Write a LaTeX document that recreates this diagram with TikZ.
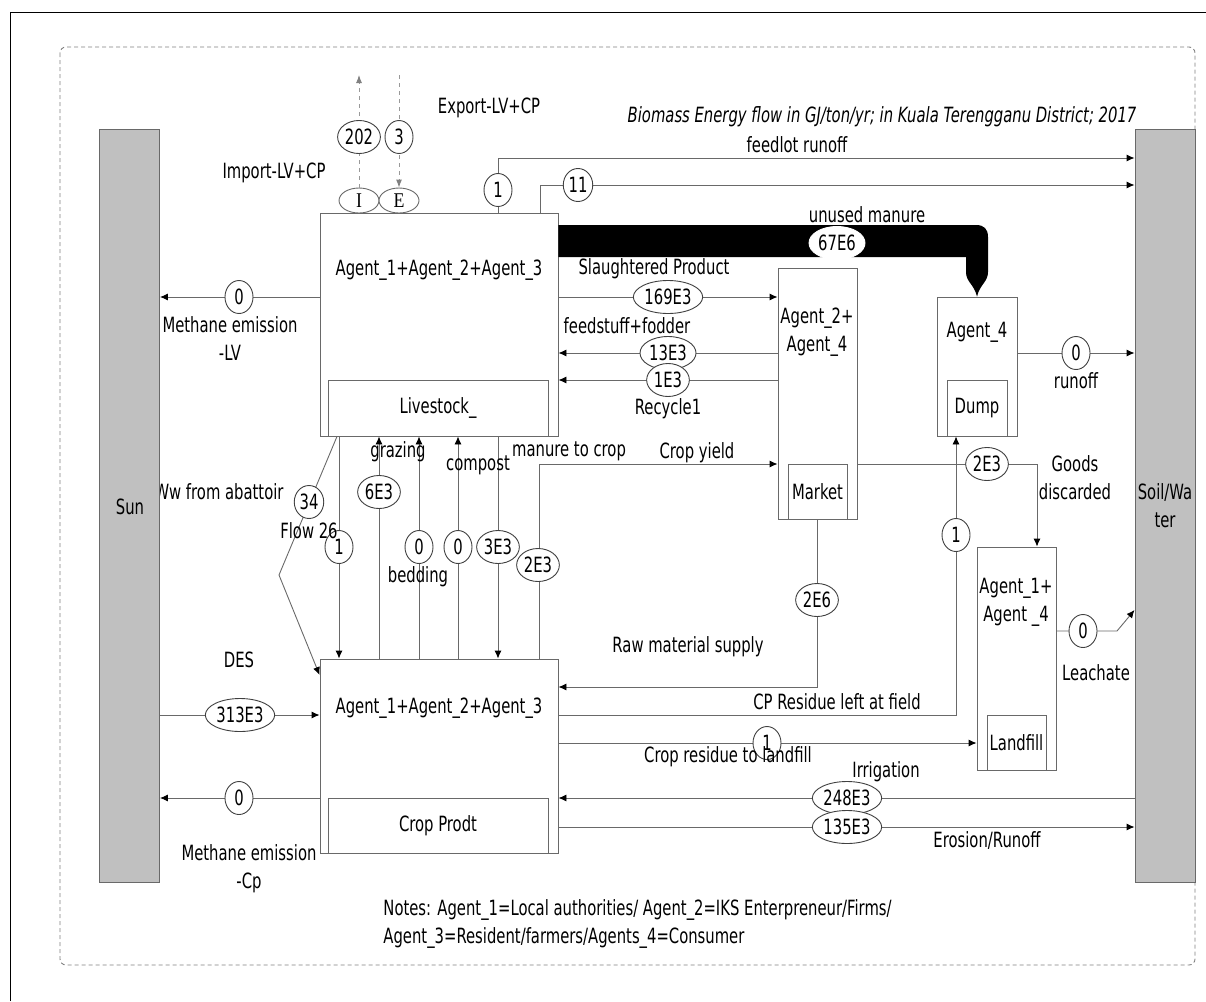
\documentclass[tikz,border=0pt]{standalone}
\usepackage{fontspec}
\setmainfont{DejaVu Sans}[FakeStretch=0.705]
\newfontfamily\ieserif{Liberation Serif}[FakeStretch=0.85]
\usetikzlibrary{arrows.meta,shapes.geometric,positioning}
\definecolor{linegray}{RGB}{105,105,105}
\definecolor{bargray}{RGB}{192,192,192}
\begin{document}
\begin{tikzpicture}[x=1pt,y=-1pt,line width=0.9pt,font=\fontsize{21}{28}\selectfont,
    box/.style={draw=linegray,fill=white,rectangle,inner sep=0pt},
    bar/.style={draw=linegray,fill=bargray,rectangle,inner sep=0pt,minimum width=60pt,minimum height=753pt},
    val/.style={draw=black!75,fill=white,ellipse,inner xsep=1pt,inner ysep=2pt,minimum width=28pt,minimum height=33pt},
    ie/.style={draw=linegray,fill=white,ellipse,inner sep=0pt,minimum width=40pt,minimum height=25pt},
    flow/.style={draw=linegray,-{Latex[color=black,length=8pt,width=7pt]}},
    ieflow/.style={draw=gray!80,dashed,dash pattern=on 4pt off 4pt,-{Latex[color=gray,length=8pt,width=6pt]}},
    txt/.style={inner sep=0pt,align=center}]
\useasboundingbox (0,0) rectangle (1206,1001);
\draw[line width=1pt] (10,1001) -- (10,12) -- (1206,12);
\draw[gray,dashed,dash pattern=on 4pt off 3pt,rounded corners=6pt] (60,47) rectangle (1195,965);

\node (ww) [txt,anchor=east] at (284,492) {Ww from abattoir};
\node (sun) [bar] at (129.5,505.5) {};
\node (soil) [bar] at (1165,505.5) {};
\node (suntxt) [txt] at (130,507) {Sun};
\node (soiltxt) [txt] at (1165,506) {Soil/Wa\\ter};

\node (lv) [box,minimum width=238pt,minimum height=223pt] at (439,324.5) {};
\node (lvin) [box,minimum width=220pt,minimum height=56pt] at (438,408) {Livestock\_};
\node (crop) [box,minimum width=238pt,minimum height=194pt] at (439,756) {};
\node (cropin) [box,minimum width=220pt,minimum height=55pt] at (438,825.5) {Crop Prodt};
\node (mkt) [box,minimum width=79pt,minimum height=251pt] at (817.5,393.5) {};
\node (mktin) [box,minimum width=59pt,minimum height=55pt] at (817.5,491.5) {Market};
\node (dump) [box,minimum width=80pt,minimum height=139pt] at (977,366.5) {};
\node (dumpin) [box,minimum width=60pt,minimum height=56pt] at (977,408) {Dump};
\node (lfill) [box,minimum width=79pt,minimum height=223pt] at (1016.5,658.5) {};
\node (lfillin) [box,minimum width=59pt,minimum height=55pt] at (1016.5,742.5) {Landfill};
\node (lvtxt) [txt] at (439,270) {Agent\_1+Agent\_2+Agent\_3};
\node (croptxt) [txt] at (439,708) {Agent\_1+Agent\_2+Agent\_3};
\node (mkttxt) [txt] at (817,332) {Agent\_2+\\Agent\_4};
\node (dumptxt) [txt] at (977,332) {Agent\_4};
\node (lfilltxt) [txt] at (1016,602) {Agent\_1+\\Agent \_4};

\node (imp) [ie] at (359,200.5) {\ieserif I};
\node (exp) [ie] at (399,200.5) {\ieserif E};
\coordinate (impend) at (359,75);
\coordinate (expstart) at (399,75);
\draw[ieflow] (imp) -- (impend);
\draw[ieflow] (expstart) -- (exp);

\fill (lv.east |- 0,225) -- (976,225) .. controls (984,225) and (988,229) .. (988,237) -- (988,272)
    .. controls (988,282) and (980,284) .. (dump.north) .. controls (974,284) and (966,282) .. (966,272)
    -- (966,257) -- (lv.east |- 0,257) -- cycle;

\draw[flow] (lv.north -| 498,0) |- (soil.west |- 0,158);
\draw[flow] (lv.north -| 540,0) |- (soil.west |- 0,185);
\draw[flow] (lv.west |- 0,297) -- (sun.east |- 0,297);
\draw[flow] (lv.east |- 0,297) -- (mkt.west |- 0,297);
\draw[flow] (mkt.west |- 0,353) -- (lv.east |- 0,353);
\draw[flow] (mkt.west |- 0,380) -- (lv.east |- 0,380);
\draw[flow] (crop.north -| 539,0) |- (mkt.west |- 0,464);
\draw[flow] (lv.south -| 339,0) -- (crop.north -| 339,0);
\foreach \x in {379,419,458}
    \draw[flow] (crop.north -| \x,0) -- (lv.south -| \x,0);
\draw[flow] (lv.south -| 498,0) -- (crop.north -| 498,0);
\draw[flow] (lv.south -| 337,0) -- (279,575) -- (crop.west |- 0,675);
\draw[flow] (sun.east |- 0,715) -- (crop.west |- 0,715);
\draw[flow] (crop.west |- 0,798) -- (sun.east |- 0,798);
\draw[flow] (mkt.south) |- (crop.east |- 0,687);
\draw[flow] (crop.east |- 0,715) -| (dump.south -| 956,0);
\draw[flow] (crop.east |- 0,743) -- (lfill.west |- 0,743);
\draw[flow] (soil.west |- 0,798) -- (crop.east |- 0,798);
\draw[flow] (crop.east |- 0,827) -- (soil.west |- 0,827);
\draw[flow] (mkt.east |- 0,464) -| (lfill.north -| 1037,0);
\draw[flow] (dump.east |- 0,353) -- (soil.west |- 0,353);
\draw[flow] (lfill.east |- 0,631) -- (1117,631) -- (soil.west |- 0,610);

\node (v202) [val] at (359,137) {202};
\node (v3) [val] at (399,137) {3};
\node (vfeed) [val] at (498,190) {1};
\node (v11) [val] at (578,185) {11};
\node (vmeth) [val] at (239,297) {0};
\node (vunused) [val,draw=white] at (837,243) {67E6};
\node (vslau) [val] at (668,297) {169E3};
\node (vfodd) [val] at (668,353) {13E3};
\node (vrec) [val] at (668,380) {1E3};
\node (vabat) [val] at (309,502) {34};
\node (vgraz) [val] at (379,492) {6E3};
\node (vdown) [val] at (339,547) {1};
\node (vbed) [val] at (419,547) {0};
\node (vcomp) [val] at (458,547) {0};
\node (vman) [val] at (498,547) {3E3};
\node (vyield) [val] at (538,565) {2E3};
\node (vdes) [val] at (240,715) {313E3};
\node (vmethcp) [val] at (239,798) {0};
\node (vraw) [val] at (817,600) {2E6};
\node (vres) [val] at (956,535) {1};
\node (vresl) [val] at (767,743) {1};
\node (virr) [val] at (847,798) {248E3};
\node (vero) [val] at (847,827) {135E3};
\node (vgood) [val] at (987,464) {2E3};
\node (vrun) [val] at (1076,353) {0};
\node (vleach) [val] at (1083,631) {0};

\node (methlv) [txt] at (230,339) {Methane emission\\-LV};
\node (import) [txt] at (274,173) {Import-LV+CP};
\node (export) [txt] at (489,108) {Export-LV+CP};
\node (title) [txt,font=\fontsize{21}{28}\selectfont\itshape] at (882,117) {Biomass Energy flow in GJ/ton/yr; in Kuala Terengganu District; 2017};
\node (feedlot) [txt] at (797,145) {feedlot runoff};
\node (unused) [txt] at (867,215) {unused manure};
\node (slau) [txt] at (654,269) {Slaughtered Product};
\node (fodd) [txt] at (627,326) {feedstuff+fodder};
\node (rec) [txt] at (668,409) {Recycle1};
\node (graz) [txt] at (398,452) {grazing};
\node (bed) [txt] at (418,577) {bedding};
\node (comp) [txt] at (478,465) {compost};
\node (mancrop) [txt] at (569,451) {manure to crop};
\node (yield) [txt] at (697,453) {Crop yield};
\node (flow26) [txt] at (309,531) {Flow 26};
\node (des) [txt] at (239,660) {DES};
\node (methcp) [txt] at (249,869) {Methane emission\\-Cp};
\node (raw) [txt] at (688,647) {Raw material supply};
\node (res) [txt] at (837,702) {CP Residue left at field};
\node (resl) [txt] at (728,757) {Crop residue to landfill};
\node (irr) [txt] at (886,772) {Irrigation};
\node (ero) [txt] at (987,840) {Erosion/Runoff};
\node (good) [txt] at (1075,478) {Goods\\discarded};
\node (run) [txt] at (1076,381) {runoff};
\node (leach) [txt] at (1096,673) {Leachate};
\node (notes) [txt,align=left,anchor=west] at (383,924) {Notes: Agent\_1=Local authorities/ Agent\_2=IKS Enterpreneur/Firms/\\Agent\_3=Resident/farmers/Agents\_4=Consumer};
\end{tikzpicture}
\end{document}
